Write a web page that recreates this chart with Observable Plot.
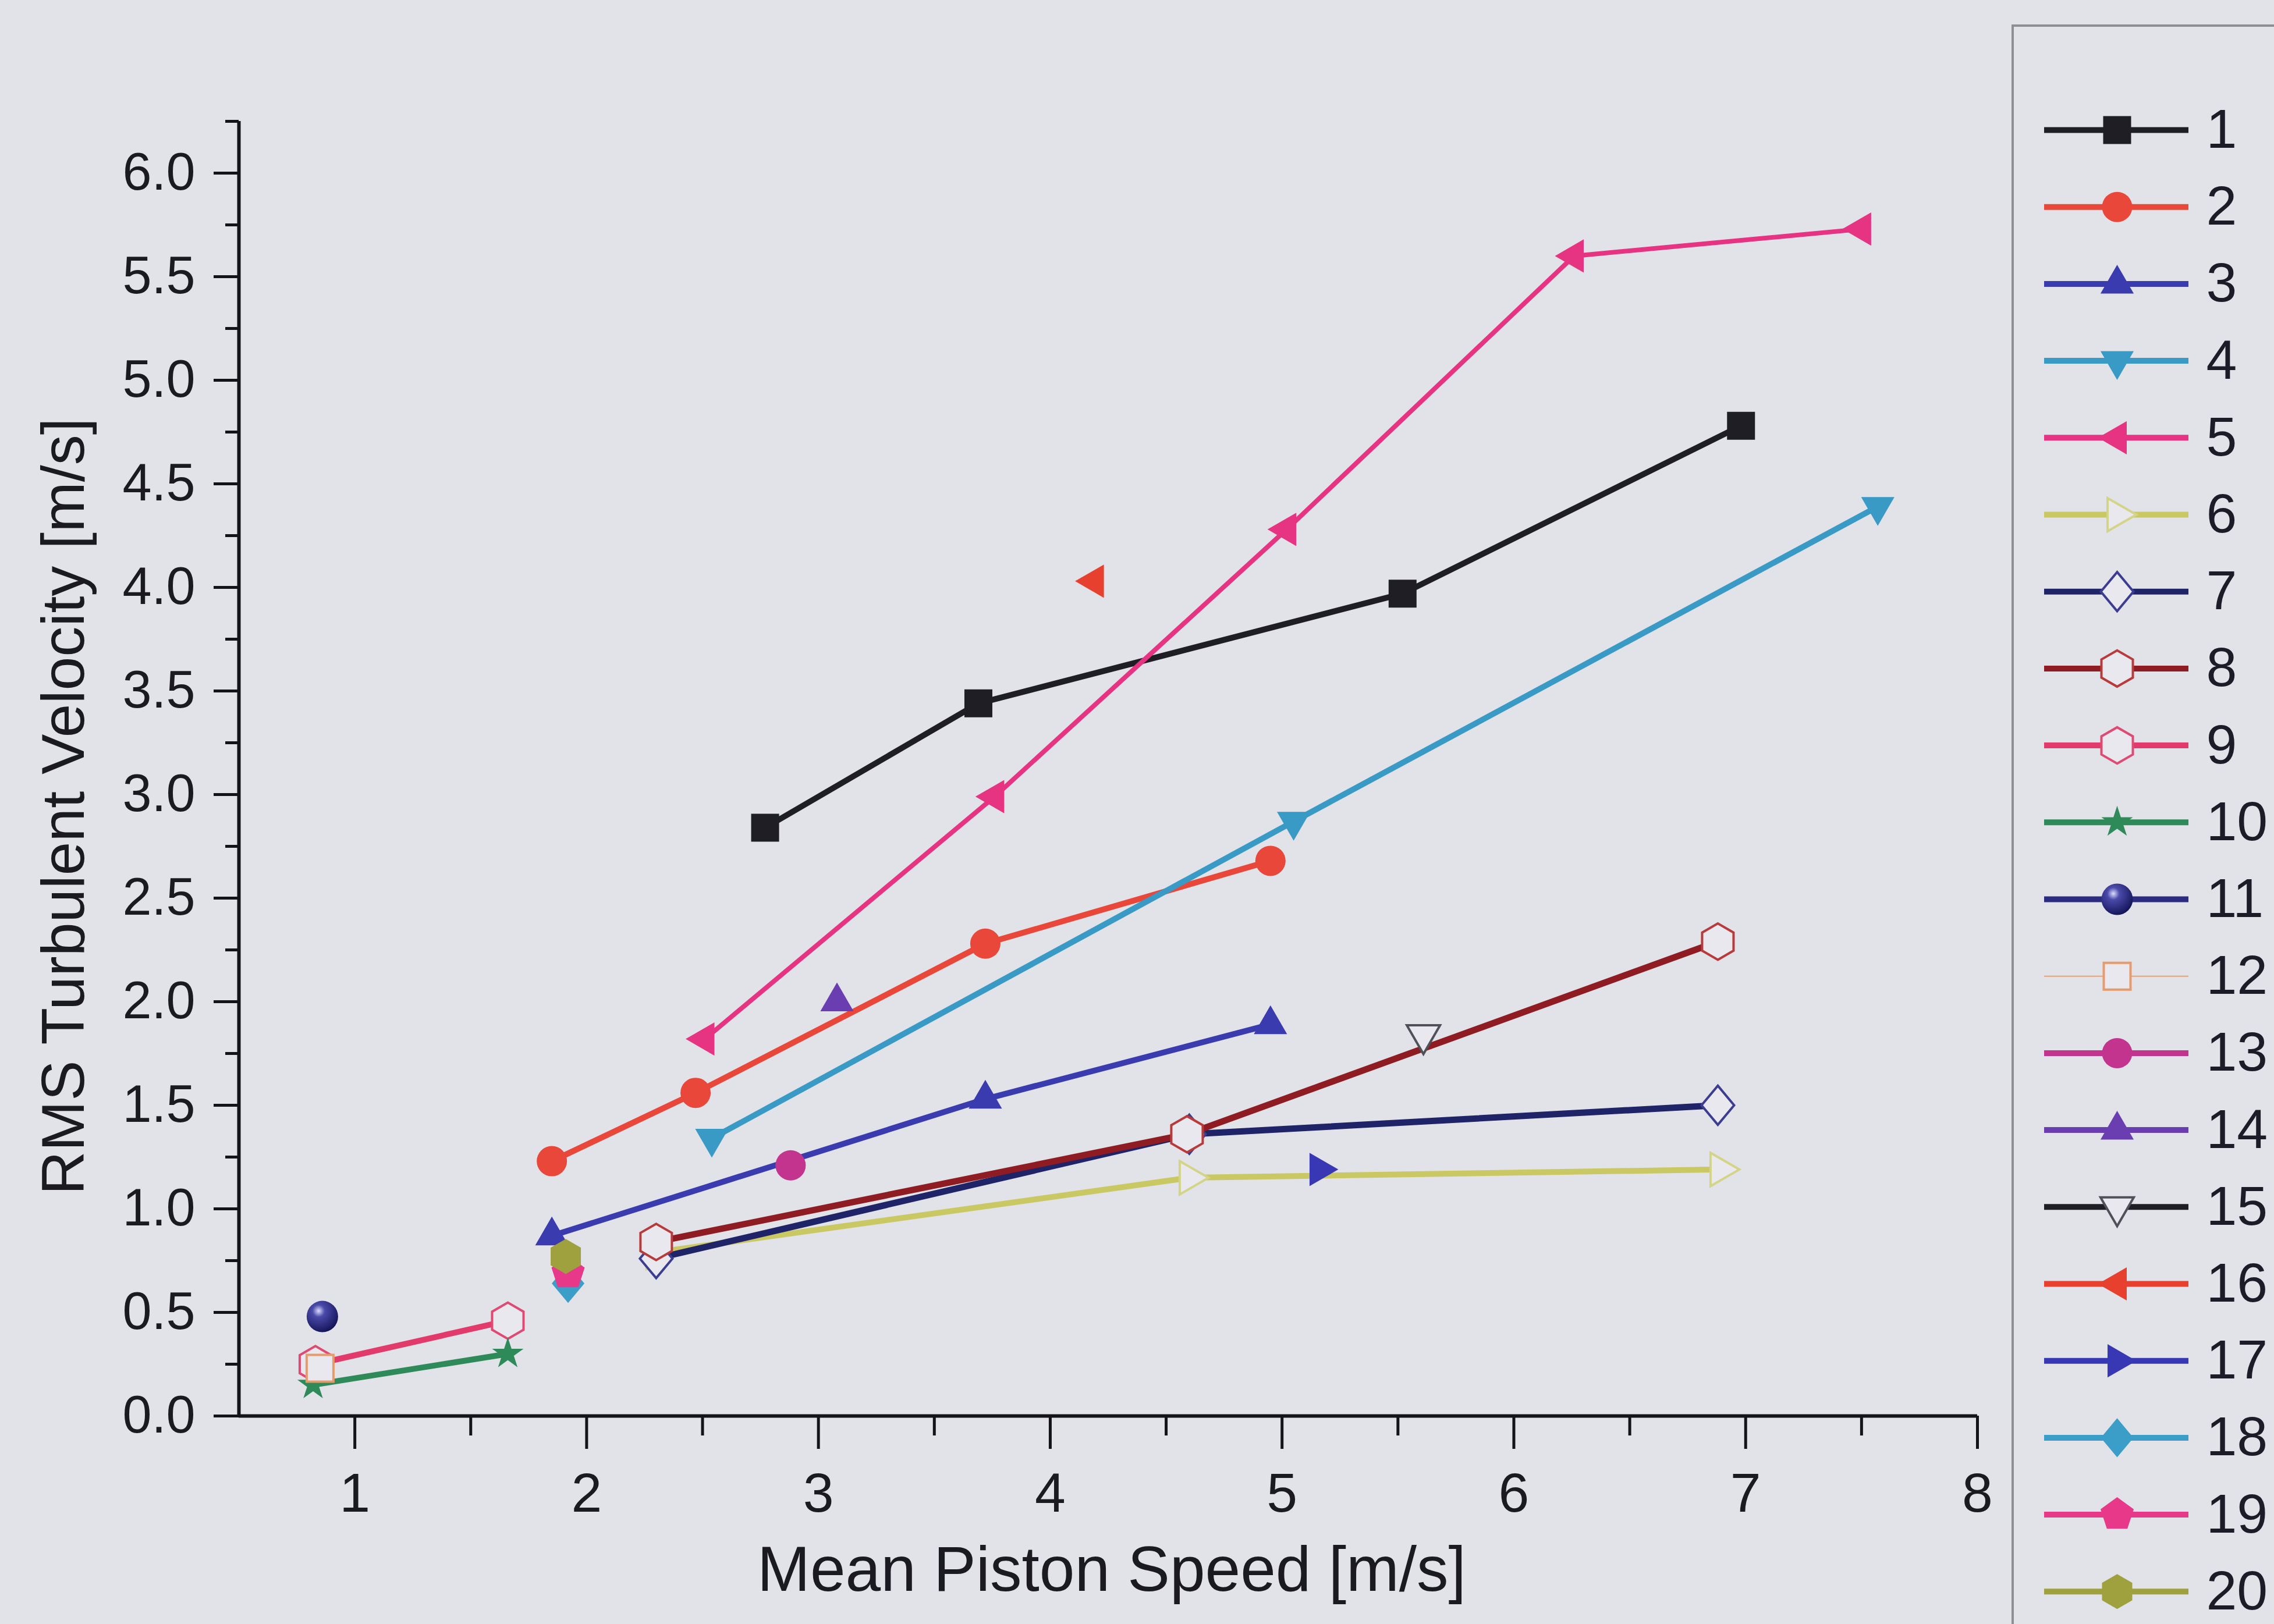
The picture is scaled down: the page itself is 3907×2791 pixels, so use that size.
<!DOCTYPE html>
<html>
<head>
<meta charset="utf-8">
<script src="https://cdn.jsdelivr.net/npm/d3@7"></script>
<script src="https://cdn.jsdelivr.net/npm/@observablehq/plot@0.6"></script>
<style>
  html, body { margin: 0; padding: 0; background: #e2e3e9; width: 3907px; height: 2791px; overflow: hidden;
    font-family: "Liberation Sans", Arial, sans-serif; }
  #chart { position: absolute; left: 0; top: 0; }
  #legendBox { position: absolute; left: 3456px; top: 42px; width: 470px; height: 2800px;
    border-left: 4px solid #8e8f95; border-top: 4px solid #8e8f95; box-sizing: border-box; }
  #legend { position: absolute; left: 3440px; top: 0; }
</style>
</head>
<body>
<svg width="0" height="0" style="position:absolute">
  <defs>
    <radialGradient id="sphereGrad" cx="0.38" cy="0.32" r="0.7">
      <stop offset="0" stop-color="#dcdcff"/>
      <stop offset="0.28" stop-color="#4a4aaa"/>
      <stop offset="1" stop-color="#14145a"/>
    </radialGradient>
  </defs>
</svg>
<div id="chart"></div>
<div id="legendBox"></div>
<div id="legend"></div>
<script>
// ---------- DATA ----------
const xTitle = "Mean Piston Speed [m/s]";
const yTitle = "RMS Turbulent Velocity [m/s]";
const seriesNames = ["1","2","3","4","5","6","7","8","9","10","11","12","13","14","15","16","17","18","19","20"];

const s01 = [[2.77, 2.84], [3.69, 3.44], [5.52, 3.97], [6.98, 4.78]];
const s02 = [[1.85, 1.23], [2.47, 1.56], [3.72, 2.28], [4.95, 2.68]];
const s03 = [[1.85, 0.87], [3.72, 1.53], [4.95, 1.89]];
const s04 = [[2.54, 1.34], [5.05, 2.87], [7.57, 4.39]];
const s05 = [[2.51, 1.82], [3.76, 2.99], [5.02, 4.28], [6.26, 5.60], [7.50, 5.73]];
const s06 = [[2.30, 0.79], [4.60, 1.15], [6.89, 1.19]];
const s07 = [[2.30, 0.76], [4.60, 1.36], [6.88, 1.50]];
const s08 = [[2.30, 0.84], [4.59, 1.36], [6.88, 2.29]];
const s09 = [[0.83, 0.25], [1.66, 0.46]];
const s10 = [[0.82, 0.15], [1.66, 0.30]];
const s11 = [[0.86, 0.48]];
const s12 = [[0.85, 0.23]];
const s13 = [[2.88, 1.21]];
const s14 = [[3.08, 2.00]];
const s15 = [[5.61, 1.84]];
const s16 = [[4.19, 4.03]];
const s17 = [[5.16, 1.19]];
const s18 = [[1.92, 0.64]];
const s19 = [[1.92, 0.69]];
const s20 = [[1.91, 0.77]];
const seriesData = [s01,s02,s03,s04,s05,s06,s07,s08,s09,s10,s11,s12,s13,s14,s15,s16,s17,s18,s19,s20];

const xMajorTicks = [1, 2, 3, 4, 5, 6, 7, 8];
const xMinorTicks = [1.5, 2.5, 3.5, 4.5, 5.5, 6.5, 7.5];
const yMajorTicks = [0, 0.5, 1, 1.5, 2, 2.5, 3, 3.5, 4, 4.5, 5, 5.5, 6];
const yMinorTicks = [0.25, 0.75, 1.25, 1.75, 2.25, 2.75, 3.25, 3.75, 4.25, 4.75, 5.25, 5.75, 6.25];

// ---------- SYMBOLS ----------
const rad = size => Math.sqrt(size / Math.PI);
function poly(n, rot) {
  return { draw(ctx, size) {
    const r = rad(size);
    for (let k = 0; k < n; k++) {
      const a = rot + k * 2 * Math.PI / n;
      const px = r * Math.sin(a), py = -r * Math.cos(a);
      if (k === 0) ctx.moveTo(px, py); else ctx.lineTo(px, py);
    }
    ctx.closePath();
  }};
}
const triUp = poly(3, 0);
const triDown = poly(3, Math.PI);
const triLeft = poly(3, -Math.PI / 2);
const triRight = poly(3, Math.PI / 2);
const pentagon = poly(5, 0);
const squareSym = { draw(ctx, size) { const r = rad(size); ctx.rect(-r, -r, 2 * r, 2 * r); } };
const diamondSym = { draw(ctx, size) { const r = rad(size);
  ctx.moveTo(0, -1.2 * r); ctx.lineTo(r, 0); ctx.lineTo(0, 1.2 * r); ctx.lineTo(-r, 0); ctx.closePath(); } };

// ---------- STYLES ----------
const openFill = "#e8e8ee";
const styles = [
  { color: "#1e1e24", symbol: squareSym, r: 24, w: 10 },
  { color: "#e8473a", symbol: "circle", r: 26, w: 10 },
  { color: "#3b3bb0", symbol: triUp, r: 33, w: 10 },
  { color: "#3a9ac6", symbol: triDown, r: 33, w: 10 },
  { color: "#e63482", symbol: triLeft, r: 33, w: 8 },
  { color: "#cac862", symbol: triRight, r: 33, w: 10, open: true, mstroke: "#d4d488" },
  { color: "#1f2468", symbol: diamondSym, r: 28, w: 11, open: true, mstroke: "#3c3c90" },
  { color: "#8e1c22", symbol: "hexagon", r: 27, w: 11, open: true, mstroke: "#b83a3a" },
  { color: "#e23a6a", symbol: "hexagon", r: 27, w: 10, open: true, mstroke: "#e04a72" },
  { color: "#2e8a58", symbol: "star", r: 17, w: 10 },
  { color: "#2b2b82", symbol: "circle", r: 27, w: 10, fill: "url(#sphereGrad)" },
  { color: "#eea070", symbol: squareSym, r: 23, w: 2, open: true, mstroke: "#e89a6a" },
  { color: "#c2348e", symbol: "circle", r: 26, w: 10 },
  { color: "#6a3db0", symbol: triUp, r: 33, w: 10 },
  { color: "#1e1e24", symbol: triDown, r: 33, w: 10, open: true, mstroke: "#505058" },
  { color: "#e8402e", symbol: triLeft, r: 33, w: 10 },
  { color: "#3838b4", symbol: triRight, r: 33, w: 10 },
  { color: "#3a9ec8", symbol: diamondSym, r: 28, w: 10 },
  { color: "#e8388a", symbol: pentagon, r: 30, w: 10 },
  { color: "#9fa03e", symbol: "hexagon", r: 26, w: 10 }
];

function dotOpts(st) {
  return {
    symbol: st.symbol, r: st.r,
    fill: st.open ? openFill : (st.fill || st.color),
    stroke: st.open ? st.mstroke : "none",
    strokeWidth: st.open ? 4 : 0
  };
}

// ---------- MAIN CHART ----------
const marks = [];
seriesData.forEach((pts, i) => {
  const st = styles[i];
  marks.push(Plot.line(pts, { x: d => d[0], y: d => d[1], stroke: st.color, strokeWidth: st.w,
    strokeLinejoin: "miter", strokeLinecap: "butt" }));
  marks.push(Plot.dot(pts, { x: d => d[0], y: d => d[1], ...dotOpts(st) }));
});

const axisColor = "#141418";
const chart = Plot.plot({
  width: 3440, height: 2791,
  marginLeft: 410, marginRight: 43, marginTop: 208, marginBottom: 358,
  x: { domain: [0.5, 8] },
  y: { domain: [0, 6.25] },
  style: { background: "transparent", fontFamily: "'Liberation Sans', Arial, sans-serif", color: "#1a1a20" },
  marks: [
    Plot.axisY({ ticks: yMajorTicks, tickSize: 43, tickPadding: 32, tickFormat: d3.format(".1f"),
      fontSize: 90, strokeWidth: 5, stroke: axisColor, label: null }),
    Plot.axisY({ ticks: yMinorTicks, tickSize: 23, tickFormat: () => "", strokeWidth: 5, stroke: axisColor, label: null }),
    Plot.axisX({ ticks: xMajorTicks, tickSize: 57, tickPadding: 40, tickFormat: d3.format("d"),
      fontSize: 95, strokeWidth: 5, stroke: axisColor, label: null }),
    Plot.axisX({ ticks: xMinorTicks, tickSize: 34, tickFormat: () => "", strokeWidth: 5, stroke: axisColor, label: null }),
    Plot.ruleX([0.5], { stroke: axisColor, strokeWidth: 6 }),
    Plot.ruleY([0], { stroke: axisColor, strokeWidth: 6 }),
    Plot.text([yTitle], { frameAnchor: "left", textAnchor: "middle", lineAnchor: "middle", rotate: -90,
      dx: -300, dy: 65, fontSize: 104, fill: "#1a1a20" }),
    Plot.text([xTitle], { frameAnchor: "bottom", textAnchor: "middle", dx: 6, dy: 300, fontSize: 109, fill: "#1a1a20" }),
    ...marks
  ]
});
document.getElementById("chart").appendChild(chart);

// ---------- LEGEND ----------
const legendMarks = [];
seriesNames.forEach((name, i) => {
  const st = styles[i];
  legendMarks.push(Plot.ruleY([i], { x1: 72, x2: 320, stroke: st.color, strokeWidth: st.w === 2 ? 2 : 10 }));
  legendMarks.push(Plot.dot([i], { x: 197, y: d => d, ...dotOpts(st) }));
  legendMarks.push(Plot.text([name], { x: 350, y: i, textAnchor: "start", fontSize: 95, fill: "#1c1c28" }));
});
const legend = Plot.plot({
  width: 467, height: 2791,
  marginLeft: 0, marginRight: 0, marginTop: 0, marginBottom: 0,
  x: { domain: [0, 467], range: [0, 467], axis: null },
  y: { domain: [0, 19], range: [223, 223 + 19 * 132.2], axis: null },
  style: { background: "transparent", fontFamily: "'Liberation Sans', Arial, sans-serif", overflow: "visible" },
  marks: legendMarks
});
document.getElementById("legend").appendChild(legend);
</script>
</body>
</html>
